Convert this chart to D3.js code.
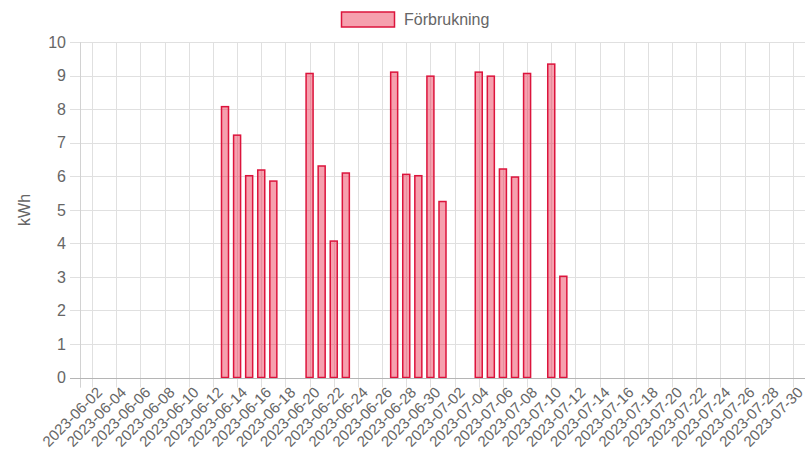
<!DOCTYPE html>
<html>
<head>
<meta charset="utf-8">
<script src="https://cdn.jsdelivr.net/npm/d3@7"></script>
<style>
  html, body { margin: 0; padding: 0; background: #fff; }
  svg { display: block; font-family: "Liberation Sans", Arial, Helvetica, sans-serif; }
</style>
</head>
<body>
<svg id="chart" width="806" height="453"></svg>
<script>
// ---- Data ----
const seriesName = "Förbrukning";
const yAxisTitle = "kWh";
const dates = [
  "2023-06-12","2023-06-13","2023-06-14","2023-06-15","2023-06-16",
  "2023-06-19","2023-06-20","2023-06-21","2023-06-22",
  "2023-06-26","2023-06-27","2023-06-28","2023-06-29","2023-06-30",
  "2023-07-03","2023-07-04","2023-07-05","2023-07-06","2023-07-07",
  "2023-07-09","2023-07-10"
];
const values = [
  8.08, 7.23, 6.02, 6.19, 5.86,
  9.07, 6.31, 4.07, 6.10,
  9.11, 6.06, 6.02, 8.99, 5.25,
  9.11, 8.99, 6.22, 5.98, 9.07,
  9.35, 3.02
];
const xDomain = ["2023-05-31", "2023-07-30"];
const yTicks = [0,1,2,3,4,5,6,7,8,9,10];
const xTickLabels = [
  "2023-06-02","2023-06-04","2023-06-06","2023-06-08","2023-06-10","2023-06-12",
  "2023-06-14","2023-06-16","2023-06-18","2023-06-20","2023-06-22","2023-06-24",
  "2023-06-26","2023-06-28","2023-06-30","2023-07-02","2023-07-04","2023-07-06",
  "2023-07-08","2023-07-10","2023-07-12","2023-07-14","2023-07-16","2023-07-18",
  "2023-07-20","2023-07-22","2023-07-24","2023-07-26","2023-07-28","2023-07-30"
];

// ---- Layout ----
const W = 806, H = 453;
const m = { left: 80, right: 1, top: 42.3, bottom: 75.5 };
const parse = d3.utcParse("%Y-%m-%d");
const svg = d3.select("#chart");

const x = d3.scaleUtc()
  .domain(xDomain.map(parse))
  .range([m.left, W - m.right]);
const y = d3.scaleLinear()
  .domain([0, 10])
  .range([H - m.bottom, m.top]);

const gridColor = "#e0e0e0";
const textColor = "#666";
const barStroke = "rgb(220, 20, 60)";
const barFill = "rgba(235, 45, 75, 0.45)";

// vertical grid (every 2 days, including the unlabeled start tick)
const gridDates = d3.utcDay.every(2).range(parse(xDomain[0]), d3.utcDay.offset(parse(xDomain[1]), 1));
const vg = svg.append("g");
vg.selectAll("line").data(gridDates).join("line")
  .attr("x1", d => Math.round(x(d)) + 0.5)
  .attr("x2", d => Math.round(x(d)) + 0.5)
  .attr("y1", m.top)
  .attr("y2", y(0) + 10)
  .attr("stroke", gridColor)
  .attr("stroke-width", 1);

// horizontal grid
const hg = svg.append("g");
hg.selectAll("line").data(yTicks).join("line")
  .attr("x1", m.left - 10)
  .attr("x2", W - m.right)
  .attr("y1", d => Math.round(y(d)) + 0.5)
  .attr("y2", d => Math.round(y(d)) + 0.5)
  .attr("stroke", d => d === 0 ? "#b5b5b5" : gridColor)
  .attr("stroke-width", 1);

// left axis border
svg.append("line")
  .attr("x1", m.left + 0.5).attr("x2", m.left + 0.5)
  .attr("y1", m.top).attr("y2", y(0) + 10)
  .attr("stroke", "#d2d2d2");

// y tick labels
svg.append("g").selectAll("text").data(yTicks).join("text")
  .attr("x", m.left - 14)
  .attr("y", d => y(d))
  .attr("dy", "0.35em")
  .attr("text-anchor", "end")
  .attr("font-size", 16)
  .attr("fill", textColor)
  .text(d => d);

// y axis title
svg.append("text")
  .attr("transform", `translate(30, ${(m.top + y(0)) / 2}) rotate(-90)`)
  .attr("text-anchor", "middle")
  .attr("font-size", 16)
  .attr("fill", textColor)
  .text(yAxisTitle);

// x tick labels
svg.append("g").selectAll("text").data(xTickLabels).join("text")
  .attr("transform", d => `translate(${x(parse(d)) - 5}, ${y(0) + 12}) rotate(-45)`)
  .attr("text-anchor", "end")
  .attr("dominant-baseline", "central")
  .attr("font-size", 15)
  .attr("fill", textColor)
  .text(d => d);

// bars
const dayW = x(parse("2023-06-02")) - x(parse("2023-06-01"));
const bw = dayW * 0.58;
svg.append("g").selectAll("rect").data(dates.map((d, i) => ({ d: parse(d), v: values[i] })))
  .join("rect")
  .attr("x", d => x(d.d) - bw / 2)
  .attr("y", d => y(d.v))
  .attr("width", bw)
  .attr("height", d => y(0) - y(d.v))
  .attr("fill", barFill)
  .attr("stroke", barStroke)
  .attr("stroke-width", 1.5);

// redraw baseline on top
svg.append("line")
  .attr("x1", m.left).attr("x2", W - m.right)
  .attr("y1", Math.round(y(0)) + 0.5).attr("y2", Math.round(y(0)) + 0.5)
  .attr("stroke", "#b5b5b5");

// legend
const lg = svg.append("g");
lg.append("rect")
  .attr("x", 341.5).attr("y", 12)
  .attr("width", 53).attr("height", 15)
  .attr("fill", barFill)
  .attr("stroke", barStroke)
  .attr("stroke-width", 1.5);
lg.append("text")
  .attr("x", 404).attr("y", 19.5)
  .attr("dy", "0.35em")
  .attr("font-size", 16)
  .attr("fill", textColor)
  .text(seriesName);
</script>
</body>
</html>
